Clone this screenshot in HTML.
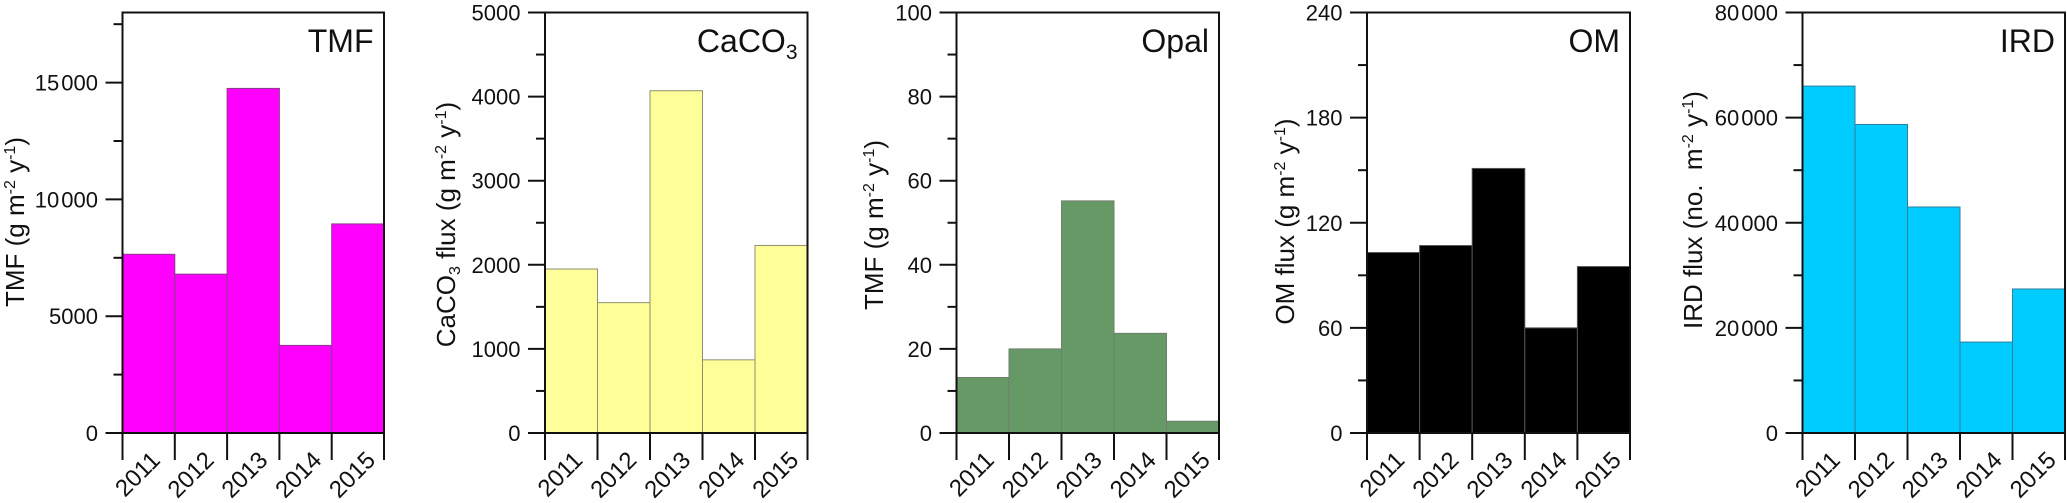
<!DOCTYPE html>
<html lang="en">
<head>
<meta charset="utf-8">
<title>Annual flux bar charts</title>
<style>
html,body{margin:0;padding:0;background:#fff;}
svg{display:block;font-family:"Liberation Sans",Arial,sans-serif;fill:#111;}
</style>
</head>
<body>
<svg id="chart" xmlns="http://www.w3.org/2000/svg" width="2067" height="503" viewBox="0 0 2067 503"></svg>
<script>
const years = ["2011", "2012", "2013", "2014", "2015"];

const tmfValues = [7650, 6800, 14750, 3750, 8950];
const caco3Values = [1950, 1550, 4070, 870, 2230];
const opalValues = [13.2, 20, 55.2, 23.7, 2.8];
const omValues = [103, 107, 151, 60, 95];
const irdValues = [66000, 58700, 43000, 17300, 27400];

const tmfMajorTicks = [0, 5000, 10000, 15000];
const tmfMajorLabels = ["0", "5000", "10 000", "15 000"];
const tmfMinorTicks = [2500, 7500, 12500, 17500];
const caco3MajorTicks = [0, 1000, 2000, 3000, 4000, 5000];
const caco3MajorLabels = ["0", "1000", "2000", "3000", "4000", "5000"];
const caco3MinorTicks = [500, 1500, 2500, 3500, 4500];
const opalMajorTicks = [0, 20, 40, 60, 80, 100];
const opalMajorLabels = ["0", "20", "40", "60", "80", "100"];
const opalMinorTicks = [10, 30, 50, 70, 90];
const omMajorTicks = [0, 60, 120, 180, 240];
const omMajorLabels = ["0", "60", "120", "180", "240"];
const omMinorTicks = [30, 90, 150, 210];
const irdMajorTicks = [0, 20000, 40000, 60000, 80000];
const irdMajorLabels = ["0", "20 000", "40 000", "60 000", "80 000"];
const irdMinorTicks = [10000, 30000, 50000, 70000];

const NS = "http://www.w3.org/2000/svg";
const svg = document.getElementById("chart");
const TOP = 12.5, BOTTOM = 433;

function make(tag, attrs, parent) {
  const el = document.createElementNS(NS, tag);
  for (const k in attrs) el.setAttribute(k, attrs[k]);
  parent.appendChild(el);
  return el;
}

function addSpans(textEl, parts) {
  let shift = 0;
  parts.forEach(function (p) {
    const s = make("tspan", {}, textEl);
    s.textContent = p.t;
    const target = p.up ? -p.up : 0;
    if (target !== shift) { s.setAttribute("dy", target - shift); shift = target; }
    if (p.size) s.setAttribute("font-size", p.size);
  });
}

function addTickLabel(textEl, label) {
  const groups = label.split(" ");
  groups.forEach(function (part, i) {
    const s = make("tspan", {}, textEl);
    s.textContent = part;
    if (i > 0) s.setAttribute("dx", 2);
  });
}

function drawPanel(cfg) {
  const g = make("g", {}, svg);
  
  

  const x = function (i) { return cfg.left + (cfg.right - cfg.left) * i / cfg.categories.length; };
  const y = function (v) { return BOTTOM - (BOTTOM - TOP) * v / cfg.max; };

  cfg.values.forEach(function (v, i) {
    const bar = make("rect", {
      x: x(i), y: y(v), width: x(i + 1) - x(i), height: BOTTOM - y(v),
      fill: cfg.fill, stroke: cfg.edge, "stroke-width": 1
    }, g);
    
    
  });

  const frame = make("path", {
    d: "M" + cfg.left + " " + BOTTOM + "V" + TOP + "H" + cfg.right + "V" + BOTTOM + "H" + cfg.left,
    fill: "none", stroke: "#111", "stroke-width": 2
  }, g);
  
  

  cfg.majorTicks.forEach(function (v, i) {
    const t = make("line", {
      x1: cfg.left - 17, x2: cfg.left, y1: y(v), y2: y(v), stroke: "#111", "stroke-width": 2
    }, g);
    
    
    const lab = make("text", {
      x: cfg.left - 24.5, y: y(v) + 8, "text-anchor": "end", "font-size": 22
    }, g);
    addTickLabel(lab, cfg.majorLabels[i]);
    
    
  });

  cfg.minorTicks.forEach(function (v) {
    const t = make("line", {
      x1: cfg.left - 9, x2: cfg.left, y1: y(v), y2: y(v), stroke: "#111", "stroke-width": 2
    }, g);
    
    
  });

  for (let i = 0; i <= cfg.categories.length; i++) {
    const t = make("line", {
      x1: x(i), x2: x(i), y1: BOTTOM, y2: 460, stroke: "#111", "stroke-width": 2
    }, g);
    
    
  }

  cfg.categories.forEach(function (c, i) {
    const cx = x(i) + 39 + i * 1.5;
    const lab = make("text", {
      x: cx, y: 461.5, "text-anchor": "end", "font-size": 24,
      transform: "rotate(-45 " + cx + " 461.5)"
    }, g);
    lab.textContent = c;
    
    
  });

  const title = make("text", {
    x: cfg.right - cfg.titleInset, y: 52, "text-anchor": "end", "font-size": 32
  }, g);
  addSpans(title, cfg.title);
  
  

  const yTitle = make("text", {
    x: 0, y: 0, "text-anchor": "middle", "font-size": 26,
    transform: "translate(" + cfg.yTitleX + " " + cfg.yTitleY + ") rotate(-90)"
  }, g);
  addSpans(yTitle, cfg.yTitle);
  
  
}

function units(prefix) {
  return prefix.concat([
    { t: "m" }, { t: "-2", up: 9, size: 16 }, { t: " y" }, { t: "-1", up: 9, size: 16 }, { t: ")" }
  ]);
}

drawPanel({
  key: "tmf", left: 122.5, right: 384, categories: years, values: tmfValues, max: 18000,
  fill: "#ff00ff", edge: "#8c3a8c", titleInset: 10.5,
  majorTicks: tmfMajorTicks, majorLabels: tmfMajorLabels, minorTicks: tmfMinorTicks,
  title: [{ t: "TMF" }],
  yTitle: units([{ t: "TMF (g " }]), yTitleX: 24, yTitleY: 222
});
drawPanel({
  key: "caco3", left: 545, right: 807.5, categories: years, values: caco3Values, max: 5000,
  fill: "#ffff99", edge: "#8f8f70", titleInset: 10,
  majorTicks: caco3MajorTicks, majorLabels: caco3MajorLabels, minorTicks: caco3MinorTicks,
  title: [{ t: "CaCO" }, { t: "3", up: -7, size: 21 }],
  yTitle: units([{ t: "CaCO" }, { t: "3", up: -5, size: 16 }, { t: " flux (g " }]), yTitleX: 455, yTitleY: 224.5
});
drawPanel({
  key: "opal", left: 956.5, right: 1219, categories: years, values: opalValues, max: 100,
  fill: "#669966", edge: "#6f7f6f", titleInset: 10,
  majorTicks: opalMajorTicks, majorLabels: opalMajorLabels, minorTicks: opalMinorTicks,
  title: [{ t: "Opal" }],
  yTitle: units([{ t: "TMF (g " }]), yTitleX: 883, yTitleY: 225
});
drawPanel({
  key: "om", left: 1367, right: 1630, categories: years, values: omValues, max: 240,
  fill: "#000000", edge: "#555555", titleInset: 10,
  majorTicks: omMajorTicks, majorLabels: omMajorLabels, minorTicks: omMinorTicks,
  title: [{ t: "OM" }],
  yTitle: units([{ t: "OM flux (g " }]), yTitleX: 1294, yTitleY: 221.5
});
drawPanel({
  key: "ird", left: 1802.5, right: 2065, categories: years, values: irdValues, max: 80000,
  fill: "#00ccff", edge: "#2f7f9f", titleInset: 10,
  majorTicks: irdMajorTicks, majorLabels: irdMajorLabels, minorTicks: irdMinorTicks,
  title: [{ t: "IRD" }],
  yTitle: units([{ t: "IRD flux (no.\u00A0 " }]), yTitleX: 1702, yTitleY: 210
});
</script>
</body>
</html>
